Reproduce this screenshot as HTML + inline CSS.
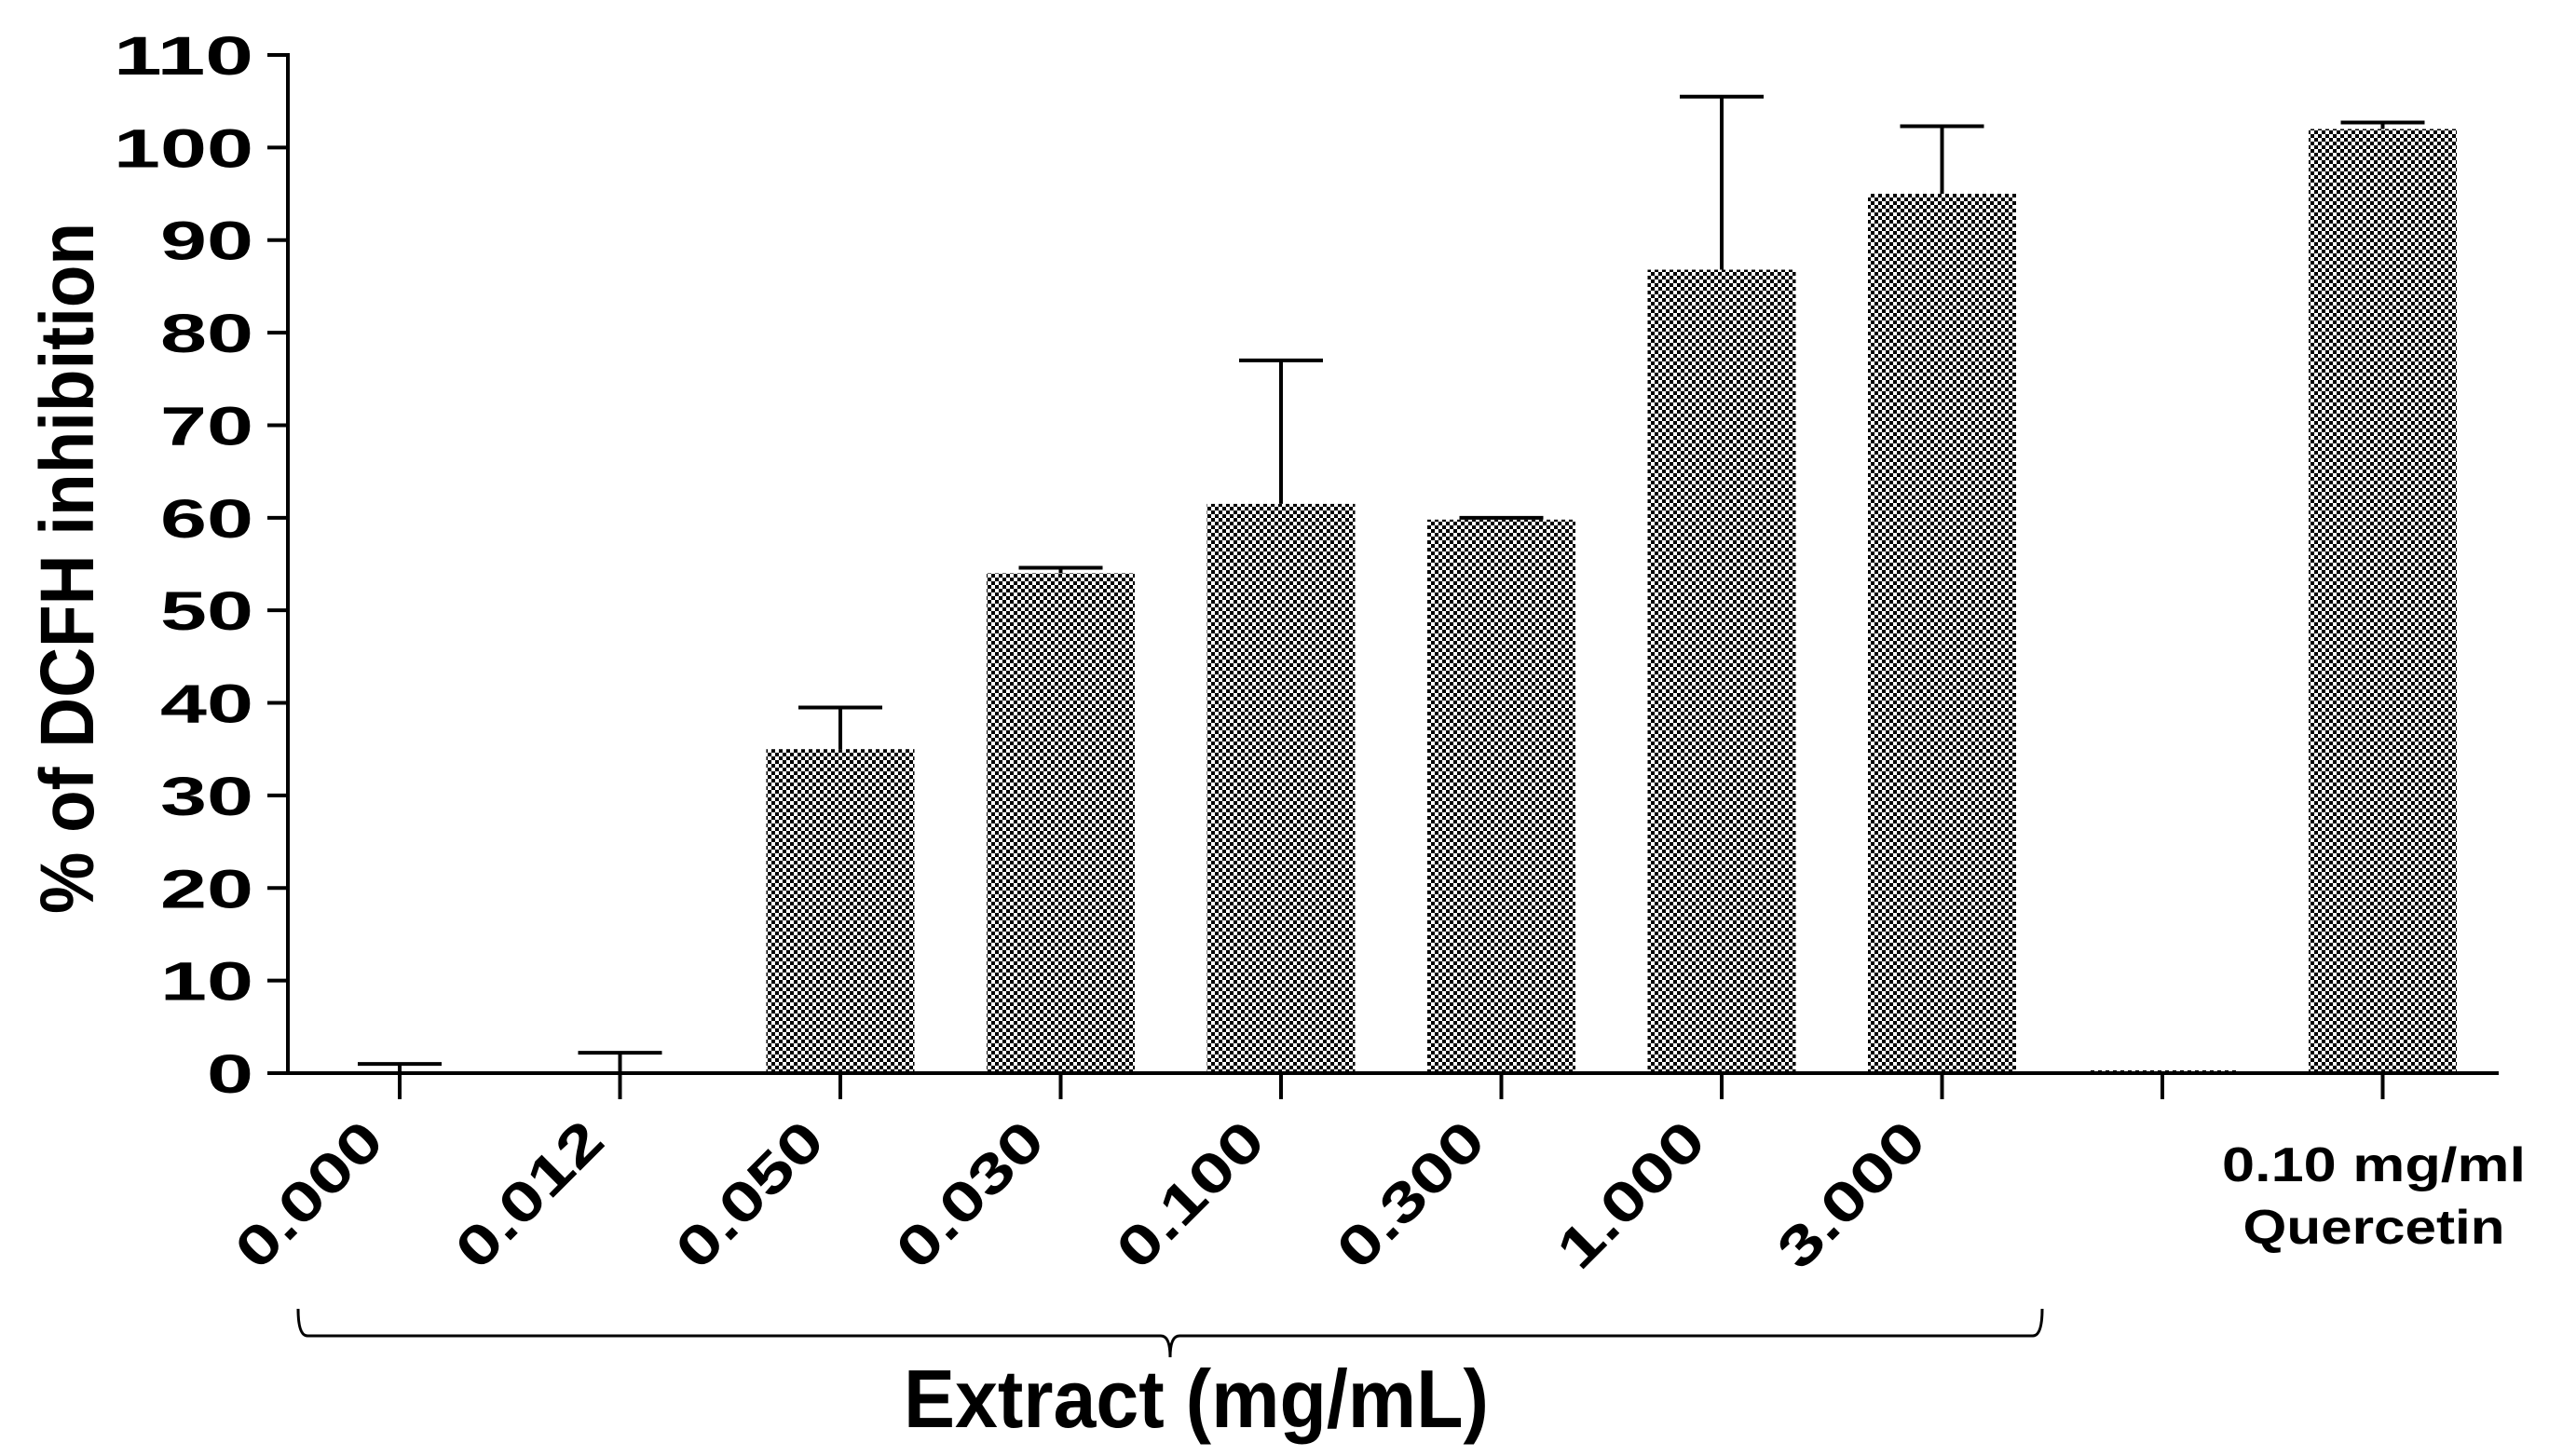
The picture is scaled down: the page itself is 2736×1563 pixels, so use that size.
<!DOCTYPE html>
<html><head><meta charset="utf-8"><style>
html,body{margin:0;padding:0;background:#fff;}
svg{display:block;font-family:"Liberation Sans",Arial,sans-serif;font-weight:bold;}
</style></head><body>
<svg id="chart" width="2736" height="1563" viewBox="0 0 2736 1563" xmlns="http://www.w3.org/2000/svg">
<defs>
<pattern id="checker" width="8" height="8" patternUnits="userSpaceOnUse">
<rect width="8" height="8" fill="#fff"/>
<rect width="4" height="4" fill="#000"/>
<rect x="4" y="4" width="4" height="4" fill="#000"/>
</pattern>
</defs>
<g id="plot"></g>
</svg>
<script>
const categories = ["0.000","0.012","0.050","0.030","0.100","0.300","1.000","3.000","",""];
const values = [0, 0, 35, 54, 61.5, 59.8, 86.8, 95, 0.3, 102];
const errors = [1, 2.2, 4.5, 0.6, 15.5, 0.2, 18.7, 7.3, 0, 0.7];
const yTicks = [0,10,20,30,40,50,60,70,80,90,100,110];

const NS = "http://www.w3.org/2000/svg";
const g = document.getElementById("plot");
const axisX = 309, y0 = 1152, yTop = 59, yMax = 110;
const firstX = 429, step = 236.5, barW = 159, capW = 90;
function yScale(v){ return y0 - (v / yMax) * (y0 - yTop); }
function xScale(i){ return firstX + i * step; }
function mk(tag, attrs, parent){
  const e = document.createElementNS(NS, tag);
  for (const k in attrs) e.setAttribute(k, attrs[k]);
  (parent || g).appendChild(e);
  return e;
}

values.forEach((v, i) => {
  const cx = xScale(i);
  const top = yScale(v);
  const h = Math.max(y0 - top, 3);
  if (v > 0) {
    const bar = mk("rect", {x: cx - barW/2, y: y0 - h, width: barW, height: h, fill: "url(#checker)"});
    
    
  }
  if (errors[i] > 0) {
    const ey = yScale(v + errors[i]);
    const ln = mk("line", {x1: cx, y1: top, x2: cx, y2: ey, stroke: "#000", "stroke-width": 4});
    
    
    const cap = mk("line", {x1: cx - capW/2, y1: ey, x2: cx + capW/2, y2: ey, stroke: "#000", "stroke-width": 4});
    
    
  }
  const t = mk("line", {x1: cx, y1: y0, x2: cx, y2: y0 + 28, stroke: "#000", "stroke-width": 4});
  
  
  if (categories[i]) {
    const lx = cx - 14, ly = 1228;
    const lab = mk("text", {x: lx, y: ly, "text-anchor": "end", "font-size": 60, textLength: 195, lengthAdjust: "spacingAndGlyphs", transform: "rotate(-45 " + lx + " " + ly + ")"});
    lab.textContent = categories[i];
    
    
  }
});

const ya = mk("line", {x1: axisX, y1: yTop - 2, x2: axisX, y2: y0 + 2, stroke: "#000", "stroke-width": 4});


const xa = mk("line", {x1: 287, y1: y0, x2: 2682, y2: y0, stroke: "#000", "stroke-width": 4});



yTicks.forEach(v => {
  const y = yScale(v);
  const tk = mk("line", {x1: axisX - 22, y1: y, x2: axisX, y2: y, stroke: "#000", "stroke-width": 4});
  
  
  const s = String(v);
  const tl = mk("text", {x: 272, y: y + 21, "text-anchor": "end", "font-size": 58, textLength: s.length * 50, lengthAdjust: "spacingAndGlyphs"});
  tl.textContent = s;
  
  
});

const yt = mk("text", {x: 0, y: 0, "text-anchor": "middle", "font-size": 82, transform: "translate(100 610) rotate(-90)", textLength: 742, lengthAdjust: "spacingAndGlyphs"});
yt.textContent = "% of DCFH inhibition";



const q1 = mk("text", {x: 2548, y: 1268, "text-anchor": "middle", "font-size": 52, textLength: 326, lengthAdjust: "spacingAndGlyphs"});
q1.textContent = "0.10 mg/ml";


const q2 = mk("text", {x: 2548, y: 1335, "text-anchor": "middle", "font-size": 52, textLength: 281, lengthAdjust: "spacingAndGlyphs"});
q2.textContent = "Quercetin";



const br = mk("path", {d: "M320 1405 Q320 1434 330 1434 L1246 1434 Q1256 1434 1256 1457 Q1256 1434 1266 1434 L2182 1434 Q2192 1434 2192 1405", fill: "none", stroke: "#000", "stroke-width": 3});



const xt = mk("text", {x: 1284, y: 1532, "text-anchor": "middle", "font-size": 88, textLength: 628, lengthAdjust: "spacingAndGlyphs"});
xt.textContent = "Extract (mg/mL)";


</script>
</body></html>
